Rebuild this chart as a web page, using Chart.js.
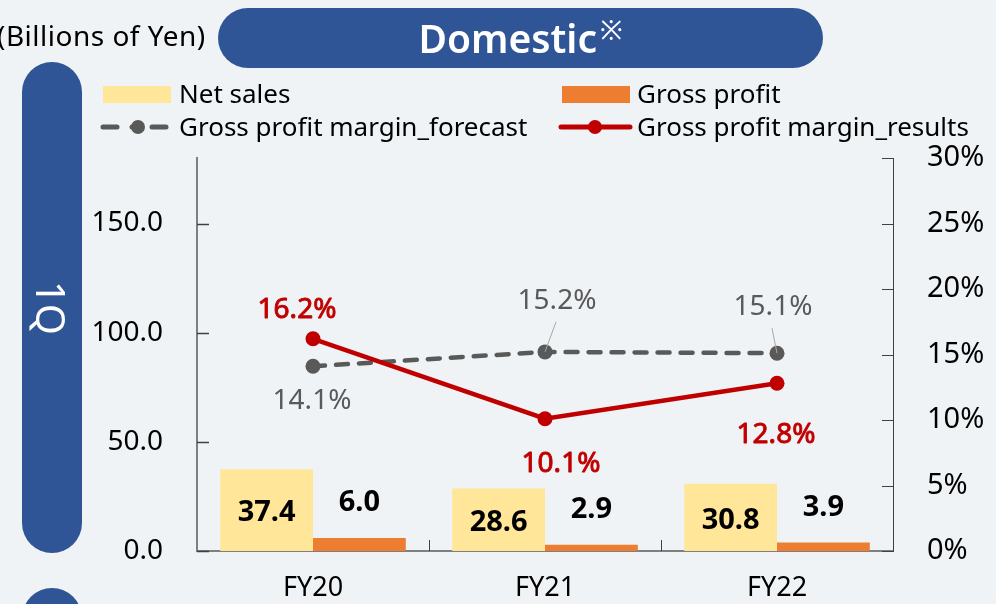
<!DOCTYPE html>
<html>
<head>
<meta charset="utf-8">
<script src="https://cdn.jsdelivr.net/npm/chart.js@4.4.1/dist/chart.umd.min.js"></script>
<style>
  html, body { margin:0; padding:0; width:996px; height:604px; overflow:hidden; background:#eff3f5; font-family:"Noto Sans", sans-serif; }
  #wrap { position:relative; width:996px; height:604px; }
  canvas#c { position:absolute; left:0; top:0; }
  .abs { position:absolute; white-space:nowrap; }
  .unit { left:-3px; top:15px; font-size:28px; color:#000; line-height:40px; letter-spacing:0.5px; }
  .titlePill { left:218px; top:8px; width:605px; height:60px; border-radius:30px; background:#2f5597; color:#fff; text-align:center; font-size:39px; font-weight:600; line-height:60px; }
  .titlePill sup { font-size:27px; font-weight:400; vertical-align:0; position:relative; top:-13px; margin-left:3px; }
  .sidePill { left:22px; top:62px; width:60px; height:491px; border-radius:30px; background:#2f5597; }
  .sidePill2 { left:22px; top:588px; width:60px; height:100px; border-radius:30px; background:#2f5597; }
  .qText { left:51px; top:308px; color:#fff; font-size:40px; line-height:40px; transform:translate(-50%,-50%) rotate(90deg); }
  .legTxt { font-size:26px; color:#000; line-height:30px; }
  .sw { position:absolute; }
</style>
</head>
<body>
<div id="wrap">
  <canvas id="c" width="996" height="604"></canvas>
  <div class="abs unit">(Billions of Yen)</div>
  <div class="abs titlePill">Domestic<sup>※</sup></div>
  <div class="abs sidePill"></div>
  <div class="abs sidePill2"></div>
  <div class="abs qText">1Q</div>

  <div class="sw" style="left:103px;top:86px;width:68px;height:17px;background:#ffe699;"></div>
  <div class="abs legTxt" style="left:179px;top:78px;">Net sales</div>
  <div class="sw" style="left:562px;top:86px;width:68px;height:17px;background:#ed7d31;"></div>
  <div class="abs legTxt" style="left:637px;top:78px;">Gross profit</div>

  <svg class="sw" style="left:96px;top:115px;" width="80" height="24">
    <line x1="7" y1="12" x2="21" y2="12" stroke="#595959" stroke-width="5" stroke-linecap="round"/>
    <line x1="36" y1="12" x2="40" y2="12" stroke="#595959" stroke-width="5" stroke-linecap="round"/>
    <line x1="56" y1="12" x2="70" y2="12" stroke="#595959" stroke-width="5" stroke-linecap="round"/>
    <circle cx="42" cy="12" r="7" fill="#595959"/>
  </svg>
  <div class="abs legTxt" style="left:179px;top:111px;">Gross profit margin_forecast</div>
  <svg class="sw" style="left:556px;top:115px;" width="80" height="24">
    <line x1="5" y1="12" x2="74" y2="12" stroke="#c00000" stroke-width="5" stroke-linecap="round"/>
    <circle cx="39" cy="12" r="7" fill="#c00000"/>
  </svg>
  <div class="abs legTxt" style="left:637px;top:111px;">Gross profit margin_results</div>
</div>
<script>
// ---- data ----
const categories = ["FY20", "FY21", "FY22"];
const netSales = [37.4, 28.6, 30.8];
const grossProfit = [6.0, 2.9, 3.9];
const marginForecast = [14.1, 15.2, 15.1];
const marginResults = [16.2, 10.1, 12.8];
const leftTicks = [0, 50, 100, 150];
const rightTicks = [0, 5, 10, 15, 20, 25, 30];

// ---- label placement styles (offsets from point, px) ----
const forecastLabelOffsets = [[-1, 35], [12, -51], [-4, -46]];
const forecastLeaders = [false, true, true];
const resultsLabelOffsets = [[-16, -29], [16, 45], [-1, 52]];

const FONT = '"Noto Sans", sans-serif';
const TICKC = '#404040';

const customDraw = {
  id: 'customDraw',
  afterDatasetsDraw(chart) {
    const ctx = chart.ctx;
    const area = chart.chartArea;
    const sx = chart.scales.x, sy = chart.scales.y, sy1 = chart.scales.y1;
    ctx.save();
    // inward tick marks
    ctx.strokeStyle = TICKC; ctx.lineWidth = 1.5;
    sy.ticks.forEach(t => {
      const y = Math.round(sy.getPixelForValue(t.value)) + 0.5;
      ctx.beginPath(); ctx.moveTo(area.left, y); ctx.lineTo(area.left + 12, y); ctx.stroke();
    });
    ctx.lineWidth = 1;
    sy1.ticks.forEach(t => {
      const y = Math.round(sy1.getPixelForValue(t.value)) + 0.5;
      ctx.beginPath(); ctx.moveTo(area.right - 11, y); ctx.lineTo(area.right, y); ctx.stroke();
    });
    for (let i = 1; i < categories.length; i++) {
      const x = Math.round((sx.getPixelForValue(i - 1) + sx.getPixelForValue(i)) / 2) + 0.5;
      ctx.beginPath(); ctx.moveTo(x, area.bottom); ctx.lineTo(x, area.bottom - 11); ctx.stroke();
    }
    // bar labels
    ctx.textAlign = 'center'; ctx.textBaseline = 'middle';
    ctx.fillStyle = '#000';
    ctx.font = 'bold 29px ' + FONT;
    const mNet = chart.getDatasetMeta(2), mGp = chart.getDatasetMeta(3);
    mNet.data.forEach((el, i) => {
      ctx.fillText(netSales[i].toFixed(1), el.x, (el.y + el.base) / 2 + 3);
    });
    mGp.data.forEach((el, i) => {
      ctx.fillText(grossProfit[i].toFixed(1), el.x, el.y - 35);
    });
    // line labels
    const mRes = chart.getDatasetMeta(0), mFc = chart.getDatasetMeta(1);
    ctx.font = '28px ' + FONT;
    ctx.fillStyle = '#595959';
    mFc.data.forEach((el, i) => {
      const [dx, dy] = forecastLabelOffsets[i];
      if (forecastLeaders[i]) {
        ctx.strokeStyle = '#a6a6a6'; ctx.lineWidth = 1;
        ctx.beginPath(); ctx.moveTo(el.x + dx - 1, el.y + dy + 21); ctx.lineTo(el.x, el.y); ctx.stroke();
      }
      ctx.fillText(marginForecast[i].toFixed(1) + '%', el.x + dx, el.y + dy);
    });
    ctx.font = '28px ' + FONT;
    ctx.fillStyle = '#c00000';
    ctx.strokeStyle = '#c00000';
    ctx.lineWidth = 0.9;
    ctx.lineJoin = 'round';
    mRes.data.forEach((el, i) => {
      const [dx, dy] = resultsLabelOffsets[i];
      const t = marginResults[i].toFixed(1) + '%';
      ctx.fillText(t, el.x + dx, el.y + dy);
      ctx.strokeText(t, el.x + dx, el.y + dy);
    });
    ctx.restore();
  }
};

new Chart(document.getElementById('c'), {
  data: {
    labels: categories,
    datasets: [
      { type: 'line', label: 'Gross profit margin_results', data: marginResults, yAxisID: 'y1',
        borderColor: '#c00000', backgroundColor: '#c00000', borderWidth: 4.5,
        pointRadius: 7.5, pointBorderWidth: 0, pointBackgroundColor: '#c00000', tension: 0 },
      { type: 'line', label: 'Gross profit margin_forecast', data: marginForecast, yAxisID: 'y1',
        borderColor: '#595959', backgroundColor: '#595959', borderWidth: 4.5, borderDash: [12, 11],
        borderCapStyle: 'round', pointRadius: 7.5, pointBorderWidth: 0, pointBackgroundColor: '#595959', tension: 0 },
      { type: 'bar', label: 'Net sales', data: netSales, yAxisID: 'y', backgroundColor: '#ffe699',
        categoryPercentage: 0.8, barPercentage: 1.0 },
      { type: 'bar', label: 'Gross profit', data: grossProfit, yAxisID: 'y', backgroundColor: '#ed7d31',
        categoryPercentage: 0.8, barPercentage: 1.0 }
    ]
  },
  options: {
    responsive: false,
    devicePixelRatio: 1,
    animation: false,
    layout: { padding: { top: 158, left: 0, right: 0, bottom: 0 } },
    plugins: { legend: { display: false }, tooltip: { enabled: false }, title: { display: false } },
    scales: {
      x: {
        type: 'category', offset: true,
        grid: { display: false, drawTicks: false },
        border: { display: true, color: '#7f7f7f', width: 2 },
        ticks: { color: '#000', font: { family: FONT, size: 27 }, padding: 21, maxRotation: 0 },
        afterFit(s) { s.height = 53; }
      },
      y: {
        position: 'left', min: 0, max: 180,
        grid: { display: false, drawTicks: false },
        border: { display: true, color: '#7f7f7f', width: 2 },
        afterBuildTicks(s) { s.ticks = leftTicks.map(v => ({ value: v })); },
        ticks: { color: '#000', font: { family: FONT, size: 28 }, padding: 34, callback: v => Number(v).toFixed(1) },
        afterFit(s) { s.width = 197; }
      },
      y1: {
        position: 'right', min: 0, max: 30,
        grid: { display: false, drawTicks: false },
        border: { display: true, color: '#404040', width: 1 },
        afterBuildTicks(s) { s.ticks = rightTicks.map(v => ({ value: v })); },
        ticks: { color: '#000', font: { family: FONT, size: 29 }, padding: 34, callback: v => v + '%' },
        afterFit(s) { s.width = 103; }
      }
    }
  },
  plugins: [customDraw]
});
</script>
</body>
</html>
